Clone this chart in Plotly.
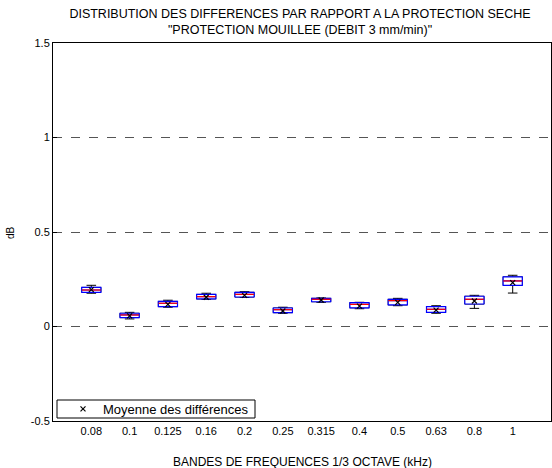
import plotly.graph_objects as go

bands = ["0.08", "0.1", "0.125", "0.16", "0.2", "0.25", "0.315", "0.4", "0.5", "0.63", "0.8", "1"]
upper = [0.218, 0.075, 0.139, 0.176, 0.184, 0.102, 0.151, 0.128, 0.149, 0.110, 0.165, 0.271]
q3 = [0.207, 0.070, 0.133, 0.170, 0.181, 0.098, 0.149, 0.126, 0.144, 0.105, 0.160, 0.263]
median = [0.193, 0.061, 0.123, 0.158, 0.170, 0.089, 0.144, 0.117, 0.137, 0.091, 0.144, 0.241]
q1 = [0.181, 0.047, 0.105, 0.146, 0.156, 0.073, 0.131, 0.099, 0.114, 0.075, 0.119, 0.218]
lower = [0.176, 0.040, 0.102, 0.144, 0.154, 0.070, 0.128, 0.094, 0.110, 0.070, 0.096, 0.177]
mean = [0.195, 0.056, 0.117, 0.155, 0.165, 0.082, 0.140, 0.108, 0.128, 0.087, 0.135, 0.232]

FONT = "Arial, Liberation Sans, sans-serif"

fig = go.Figure()

# whiskers (black)
fig.add_trace(go.Box(
    x=bands, q1=q1, median=median, q3=q3, lowerfence=lower, upperfence=upper,
    width=0.5, whiskerwidth=0.5, line=dict(color="black", width=1),
    fillcolor="white", showlegend=False, hoverinfo="skip", boxpoints=False,
))
# box outline (blue)
fig.add_trace(go.Box(
    x=bands, q1=q1, median=median, q3=q3, lowerfence=q1, upperfence=q3,
    width=0.5, whiskerwidth=0, line=dict(color="blue", width=1.2),
    fillcolor="white", showlegend=False, hoverinfo="skip", boxpoints=False,
))
# median (red)
fig.add_trace(go.Scatter(
    x=bands, y=median, mode="markers",
    marker=dict(symbol="line-ew", size=13.5, line=dict(color="red", width=1.2)),
    showlegend=False, hoverinfo="skip",
))
# mean markers
fig.add_trace(go.Scatter(
    x=bands, y=mean, mode="markers", name="Moyenne des différences",
    marker=dict(symbol="x-thin", size=5, line=dict(color="black", width=1.2), color="black"),
))

fig.update_layout(
    width=552, height=468,
    margin=dict(l=53, r=1, t=43, b=47, autoexpand=False),
    paper_bgcolor="white", plot_bgcolor="white",
    boxmode="overlay",
    font=dict(family=FONT, size=11, color="black"),
    title=dict(
        text="DISTRIBUTION DES DIFFERENCES PAR RAPPORT A LA PROTECTION SECHE<br>\"PROTECTION MOUILLEE (DEBIT 3 mm/min)\"",
        x=(300 / 552), xref="container", xanchor="center",
        y=1 - 18 / 468, yref="container", yanchor="top",
        font=dict(family=FONT, size=12.5, color="black"),
    ),
    xaxis=dict(
        type="category", range=[-1, 12], showgrid=False, zeroline=False,
        showline=True, mirror=True, linecolor="black", linewidth=1,
        ticks="", tickfont=dict(size=11), automargin=False,
    ),
    yaxis=dict(
        range=[-0.5, 1.5], tickvals=[-0.5, 0, 0.5, 1, 1.5],
        ticktext=["-0.5", "0", "0.5", "1", "1.5"],
        showgrid=True, gridcolor="#555555", griddash="dash", gridwidth=1,
        zeroline=False, showline=True, mirror=True, linecolor="black", linewidth=1,
        ticks="inside", ticklen=4, tickcolor="black", tickfont=dict(size=11),
        automargin=False,
    ),
    legend=dict(
        x=(63 - 53) / 498, y=(421 - 409) / 378, xanchor="left", yanchor="middle",
        borderwidth=0, bgcolor="rgba(0,0,0,0)",
        font=dict(size=13), tracegroupgap=0, itemwidth=30,
    ),
    shapes=[
        dict(type="rect", xref="paper", yref="paper", layer="above",
             x0=(57 - 53) / 498, x1=(255 - 53) / 498,
             y0=(421 - 418) / 378, y1=(421 - 400) / 378,
             line=dict(color="black", width=1), fillcolor="white"),
    ],
    annotations=[
        dict(text="BANDES DE FREQUENCES 1/3 OCTAVE (kHz)", xref="paper", yref="paper",
             x=0.5, y=-(462 - 421) / 378, xanchor="center", yanchor="middle",
             showarrow=False, font=dict(size=12)),
        dict(text="dB", xref="paper", yref="paper", textangle=-90,
             x=(10 - 53) / 498, y=(421 - 233) / 378, xanchor="center", yanchor="middle",
             showarrow=False, font=dict(size=10)),
    ],
)

fig.write_html("out.html", post_script="document.body.style.margin='0';",
               config={"displayModeBar": False})
